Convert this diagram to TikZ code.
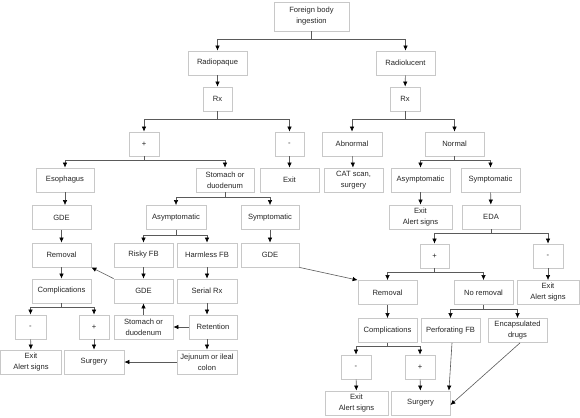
\documentclass[tikz,border=0pt]{standalone}
\usepackage{fontspec}
\setmainfont{Liberation Sans}
\usetikzlibrary{arrows.meta}
\definecolor{boxgray}{RGB}{200,200,200}
\definecolor{linegray}{RGB}{90,90,90}
\begin{document}
\begin{tikzpicture}[x=1pt,y=-1pt,
  box/.style={draw=boxgray, line width=0.8pt, rectangle, minimum height=24pt, inner sep=0pt, align=center, font=\fontsize{7.6}{11}\selectfont, text=black!85},
  w/.style={minimum width=#1},
  arr/.style={draw=linegray, line width=0.6pt, -{Latex[length=5pt,width=4.5pt,color=black]}},
  ln/.style={draw=linegray, line width=0.6pt}]
\useasboundingbox[fill=white] (0,0) rectangle (580,417);
% row 0
\node[box, w=75pt, minimum height=29pt] (fbi) at (311.5,16.5) {Foreign body\\ingestion};
% row 1
\node[box, w=59pt] (ropaque) at (217.5,63) {Radiopaque};
\node[box, w=59pt] (rlucent) at (405.5,63) {Radiolucent};
% row 2
\node[box, w=29pt] (rxa) at (217.5,99) {Rx};
\node[box, w=30pt] (rxb) at (405,99) {Rx};
% row 3
\node[box, w=30pt] (plusa) at (144,144) {+};
\node[box, w=29pt] (minusa) at (289.5,144) {-};
\node[box, w=60pt] (abnormal) at (352,144) {Abnormal};
\node[box, w=59pt] (normal) at (454.5,144) {Normal};
% row 4
\node[box, w=58pt] (esoph) at (65,180) {Esophagus};
\node[box, w=58pt] (stoma) at (225,180) {Stomach or\\duodenum};
\node[box, w=59pt] (exita) at (289.5,180) {Exit};
\node[box, w=59pt] (cat) at (353.5,180) {CAT scan,\\surgery};
\node[box, w=59pt] (asymb) at (420.5,180) {Asymptomatic};
\node[box, w=59pt] (symb) at (490.5,180) {Symptomatic};
% row 5
\node[box, w=59pt] (gdea) at (61.5,217.5) {GDE};
\node[box, w=60pt] (asyma) at (176,217.5) {Asymptomatic};
\node[box, w=58pt] (syma) at (270,217.5) {Symptomatic};
\node[box, w=63pt] (exitb) at (420.5,217) {Exit\\Alert signs};
\node[box, w=58pt] (eda) at (491,217) {EDA};
% row 6
\node[box, w=59pt] (remova) at (61.5,255) {Removal};
\node[box, w=59pt] (risky) at (143.5,255) {Risky FB};
\node[box, w=60pt] (harmless) at (207,255) {Harmless FB};
\node[box, w=58pt] (gdeb) at (270,255) {GDE};
\node[box, w=29pt] (plusb) at (434.5,256) {+};
\node[box, w=30pt] (minusb) at (548,256) {-};
% row 7
\node[box, w=59pt] (compla) at (61.5,291) {Complications};
\node[box, w=59pt] (gdec) at (143.5,291) {GDE};
\node[box, w=60pt] (serial) at (207,291) {Serial Rx};
\node[box, w=59pt] (removb) at (387.5,292.5) {Removal};
\node[box, w=59pt] (noremov) at (483.5,292.5) {No removal};
\node[box, w=62pt] (exitc) at (548,292.5) {Exit\\Alert signs};
% row 8
\node[box, w=31pt] (minusc) at (30.5,327) {-};
\node[box, w=30pt] (plusc) at (94,327) {+};
\node[box, w=59pt] (stomb) at (143.5,327) {Stomach or\\duodenum};
\node[box, w=48pt] (retention) at (213,327) {Retention};
\node[box, w=59pt] (complb) at (387.5,330.5) {Complications};
\node[box, w=59pt] (perfor) at (450.5,330.5) {Perforating FB};
\node[box, w=59pt] (encaps) at (517.5,330.5) {Encapsulated\\drugs};
% row 9
\node[box, w=61pt] (exitd) at (31,362) {Exit\\Alert signs};
\node[box, w=60pt] (surga) at (94,362) {Surgery};
\node[box, w=60pt] (jejun) at (207,362) {Jejunum or ileal\\colon};
\node[box, w=30pt] (minusd) at (356,367) {-};
\node[box, w=30pt] (plusd) at (420,367) {+};
% row 10
\node[box, w=63pt] (exite) at (356.5,403) {Exit\\Alert signs};
\node[box, w=59pt] (surgb) at (420.5,403) {Surgery};

% connectors
\draw[arr] (fbi.south) -- ++(0,8) -| (ropaque.north);
\draw[arr] (fbi.south) -- ++(0,8) -| (rlucent.north);
\draw[arr] (ropaque) -- (rxa);
\draw[arr] (rlucent) -- (rxb);
\draw[arr] (rxa.south) -- ++(0,8) -| (plusa.north);
\draw[arr] (rxa.south) -- ++(0,8) -| (minusa.north);
\draw[arr] (rxb.south) -- ++(0,8) -| (abnormal.north);
\draw[arr] (rxb.south) -- ++(0,8) -| (normal.north);
\draw[arr] (plusa.south) -- ++(0,3.5) -| (esoph.north);
\draw[arr] (plusa.south) -- ++(0,3.5) -| (stoma.north);
\draw[arr] (minusa) -- (exita);
\draw[arr] (abnormal) -- (cat);
\draw[arr] (normal.south) -- ++(0,3.5) -| (asymb.north);
\draw[arr] (normal.south) -- ++(0,3.5) -| (symb.north);
\draw[arr] (esoph.south) -- (esoph.south |- gdea.north);
\draw[arr] (stoma.south) -- ++(0,5) -| (asyma.north);
\draw[arr] (stoma.south) -- ++(0,5) -| (syma.north);
\draw[arr] (asymb) -- (exitb);
\draw[arr] (symb) -- (eda);
\draw[arr] (gdea) -- (remova);
\draw[arr] (asyma.south) -- ++(0,5) -| (risky.north);
\draw[arr] (asyma.south) -- ++(0,5) -| (harmless.north);
\draw[arr] (syma) -- (gdeb);
\draw[arr] (eda.south) -- ++(0,4) -| (plusb.north);
\draw[arr] (eda.south) -- ++(0,4) -| (minusb.north);
\draw[arr] (remova) -- (compla);
\draw[arr] (risky) -- (gdec);
\draw[arr] (harmless) -- (serial);
\draw[arr] (gdec.north west) -- (remova.south east);
\draw[arr] (gdeb.south east) -- (removb.north west);
\draw[arr] (plusb.south) -- ++(0,4) -| (removb.north);
\draw[arr] (plusb.south) -- ++(0,4) -| (noremov.north);
\draw[arr] (minusb) -- (exitc);
\draw[arr] (compla.south) -- ++(0,3.5) -| (minusc.north);
\draw[arr] (compla.south) -- ++(0,3.5) -| (plusc.north);
\draw[arr] (serial.south) -- (serial.south |- retention.north);
\draw[arr] (stomb) -- (gdec);
\draw[arr] (retention) -- (stomb);
\draw[arr] (noremov.south) -- ++(0,4.5) -| (perfor.north);
\draw[arr] (noremov.south) -- ++(0,4.5) -| (encaps.north);
\draw[arr] (removb) -- (complb);
\draw[arr] (minusc) -- (exitd);
\draw[arr] (plusc) -- (surga);
\draw[arr] (retention.south -| jejun) -- (jejun.north);
\draw[arr] (jejun) -- (surga);
\draw[arr] (complb.south) -- ++(0,3.5) -| (minusd.north);
\draw[arr] (complb.south) -- ++(0,3.5) -| (plusd.north);
\draw[arr] (minusd) -- (exite);
\draw[arr] (plusd) -- (surgb);
\draw[arr] ([xshift=1.5pt]perfor.south) -- ([xshift=-1.5pt]surgb.north east);
\draw[arr] ([xshift=2.5pt]encaps.south) -- ([yshift=-2pt]surgb.east);
\end{tikzpicture}
\end{document}
